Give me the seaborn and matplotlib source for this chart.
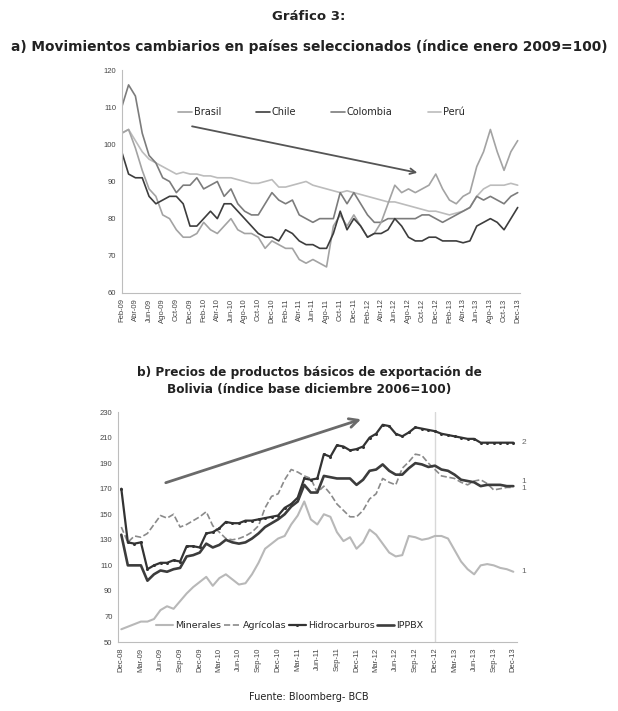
import matplotlib
matplotlib.use("Agg")
import matplotlib.pyplot as plt
import numpy as np
import pandas as pd
import seaborn as sns

# --- Panel a) tipos de cambio, mensual Feb-09 .. Dic-13 (índice ene-2009=100)
brasil = [103, 104, 99, 93, 88, 86, 81, 80, 77, 75,
          75, 76, 79, 77, 76, 78, 80, 77, 76, 76,
          75, 72, 74, 73, 72, 72, 69, 68, 69, 68,
          67, 78, 81, 78, 81, 78, 75, 76, 79, 84,
          89, 87, 88, 87, 88, 89, 92, 88, 85, 84,
          86, 87, 94, 98, 104, 98, 93, 98, 101]
chile = [98, 92, 91, 91, 86, 84, 85, 86, 86, 84,
         78, 78, 80, 82, 80, 84, 84, 82, 80, 78,
         76, 75, 75, 74, 77, 76, 74, 73, 73, 72,
         72, 76, 82, 77, 80, 78, 75, 76, 76, 77,
         80, 78, 75, 74, 74, 75, 75, 74, 74, 74,
         73.5, 74, 78, 79, 80, 79, 77, 80, 83]
colombia = [110, 116, 113, 103, 97, 95, 91, 90, 87, 89,
            89, 91, 88, 89, 90, 86, 88, 84, 82, 81,
            81, 84, 87, 85, 84, 85, 81, 80, 79, 80,
            80, 80, 87, 84, 87, 84, 81, 79, 79, 80,
            80, 80, 80, 80, 81, 81, 80, 79, 80, 81,
            82, 83, 86, 85, 86, 85, 84, 86, 87]
peru = [103, 104, 101, 98, 96, 95, 94, 93, 92, 92.5,
        92, 92, 91.5, 91.5, 91, 91, 91, 90.5, 90, 89.5,
        89.5, 90, 90.5, 88.5, 88.5, 89, 89.5, 90, 89, 88.5,
        88, 87.5, 87, 87.5, 87, 86.5, 86, 85.5, 85, 84.5,
        84.5, 84, 83.5, 83, 82.5, 82, 82, 81.5, 81, 81.5,
        82, 83, 86, 88, 89, 89, 89, 89.5, 89]
meses_a = ["Feb", "Abr", "Jun", "Ago", "Oct", "Dec"]
labels_a = [f"{m}-{y}" for y in ["09", "10", "11", "12", "13"] for m in meses_a]

# --- Panel b) precios de exportación, mensual Dic-08 .. Dic-13
minerales = [60, 62, 64, 66, 66, 68, 75, 78, 76, 82,
             88, 93, 97, 101, 94, 100, 103, 99, 95, 96,
             103, 112, 123, 127, 131, 133, 142, 149, 160, 146,
             142, 150, 148, 136, 129, 132, 123, 128, 138, 134,
             127, 120, 117, 118, 133, 132, 130, 131, 133, 133,
             131, 122, 113, 107, 103, 110, 111, 110, 108, 107, 105]
agricolas = [140, 128, 133, 132, 135, 142, 149, 147, 150, 140,
             142, 145, 148, 152, 141, 136, 131, 130, 131, 133,
             136, 141, 155, 164, 166, 177, 185, 183, 180, 178,
             167, 172, 166, 158, 153, 148, 148, 153, 162, 166,
             178, 175, 173, 186, 191, 197, 196, 190, 185, 180,
             179, 178, 175, 173, 176, 177, 174, 169, 170, 171, 171]
hidrocarburos = [170, 128, 127, 128, 107, 110, 112, 112, 114, 113,
                 125, 125, 124, 135, 136, 139, 144, 143, 143, 145,
                 145, 146, 147, 148, 149, 155, 158, 163, 178, 177,
                 178, 197, 195, 204, 203, 200, 201, 203, 210, 213,
                 220, 219, 213, 211, 214, 218, 217, 216, 215, 213,
                 212, 211, 210, 209, 209, 206, 206, 206, 206, 206, 206]
ippbx = [134, 110, 110, 110, 98, 103, 106, 105, 107, 108,
         117, 118, 120, 127, 124, 126, 130, 128, 127, 128,
         131, 135, 140, 143, 146, 150, 156, 160, 173, 167,
         167, 180, 179, 178, 178, 178, 173, 177, 184, 185,
         189, 184, 181, 181, 186, 190, 189, 187, 188, 185,
         184, 181, 177, 176, 175, 172, 173, 173, 173, 172, 172]
meses_b = ["Mar", "Jun", "Sep", "Dec"]
labels_b = ["Dec-08"] + [f"{m}-{y}" for y in ["09", "10", "11", "12", "13"] for m in meses_b]
etiquetas_fin = ["2", "1", "1", "1"]

sns.set_style("white")
plt.rcParams["font.family"] = ["DejaVu Sans"]

fig = plt.figure(figsize=(6.18, 7.11), dpi=100)
ax1 = fig.add_axes([0.197, 0.588, 0.644, 0.3135])
ax2 = fig.add_axes([0.191, 0.097, 0.646, 0.3235])

# panel a
df_a = pd.DataFrame({"mes": np.arange(len(brasil)), "Brasil": brasil, "Chile": chile,
                     "Colombia": colombia, "Perú": peru})
colores_a = {"Brasil": "#a3a3a3", "Chile": "#3d3d3d", "Colombia": "#7c7c7c", "Perú": "#bcbcbc"}
for pais in ["Perú", "Colombia", "Brasil", "Chile"]:
    sns.lineplot(data=df_a, x="mes", y=pais, ax=ax1, color=colores_a[pais], lw=1.2, label=pais)
h, l = ax1.get_legend_handles_labels()
orden = [l.index(p) for p in ["Brasil", "Chile", "Colombia", "Perú"]]
ax1.legend([h[i] for i in orden], [l[i] for i in orden], ncol=4, frameon=False,
           loc="center left", bbox_to_anchor=(0.12, 0.81), fontsize=7,
           handlelength=1.4, handletextpad=0.2, columnspacing=3.6)
ax1.annotate("", xy=(43.7, 92.2), xytext=(9.9, 105),
             arrowprops=dict(arrowstyle="->", color="#555555", lw=1.3))
ax1.set_ylim(60, 120)
ax1.set_xlim(0, 58.3)
ax1.set_yticks(range(60, 121, 10))
ax1.set_xticks(range(0, 59, 2))
ax1.set_xticklabels(labels_a, rotation=90)
ax1.set_xlabel("")
ax1.set_ylabel("")

# panel b
df_b = pd.DataFrame({"mes": np.arange(len(minerales)), "Minerales": minerales,
                     "Agrícolas": agricolas, "Hidrocarburos": hidrocarburos, "IPPBX": ippbx})
ax2.axvline(48, color="#d8d8d8", lw=1.0)
sns.lineplot(data=df_b, x="mes", y="Minerales", ax=ax2, color="#b8b8b8", lw=1.5, label="Minerales")
sns.lineplot(data=df_b, x="mes", y="Agrícolas", ax=ax2, color="#8a8a8a", lw=1.2,
             linestyle="--", label="Agrícolas")
sns.lineplot(data=df_b, x="mes", y="Hidrocarburos", ax=ax2, color="#333333", lw=1.6,
             marker="o", markersize=2.2, markeredgewidth=0, label="Hidrocarburos")
sns.lineplot(data=df_b, x="mes", y="IPPBX", ax=ax2, color="#3c3c3c", lw=1.9, label="IPPBX")
ax2.legend(ncol=4, frameon=False, loc="center", bbox_to_anchor=(0.43, 0.072), fontsize=6.8,
           handlelength=1.8, handletextpad=0.2, columnspacing=0.3)
ultimo = len(minerales) - 1
for val, txt in zip([hidrocarburos[-1], ippbx[-1] + 4, agricolas[-1] - 1, minerales[-1]], etiquetas_fin):
    ax2.text(ultimo + 1.2, val, txt, fontsize=6, color="#666666", va="center", ha="left",
             family="Liberation Sans")
ax2.annotate("", xy=(37.1, 225), xytext=(6.4, 174),
             arrowprops=dict(arrowstyle="->", color="#6a6a6a", lw=2.0, mutation_scale=16))
ax2.set_ylim(50, 230)
ax2.set_xlim(-0.5, 60.6)
ax2.set_yticks(range(50, 231, 20))
ax2.set_xticks(range(0, 61, 3))
ax2.set_xticklabels(labels_b, rotation=90)
ax2.set_xlabel("")
ax2.set_ylabel("")

for ax in (ax1, ax2):
    sns.despine(ax=ax)
    for s in ("left", "bottom"):
        ax.spines[s].set_color("#bdbdbd")
        ax.spines[s].set_linewidth(0.8)
    ax.tick_params(axis="both", length=2, width=0.6, color="#bdbdbd", pad=2,
                   labelsize=5.5, labelcolor="#444444")
    for t in ax.get_xticklabels() + ax.get_yticklabels():
        t.set_family("Liberation Sans")

fig.text(0.5, 1 - 17 / 711, "Gráfico 3:", ha="center", va="center", fontsize=9.5,
         fontweight="bold", color="#222222")
fig.text(0.5, 1 - 47 / 711, "a) Movimientos cambiarios en países seleccionados (índice enero 2009=100)",
         ha="center", va="center", fontsize=9.9, fontweight="bold", color="#222222")
fig.text(0.5, 1 - 372 / 711, "b) Precios de productos básicos de exportación de",
         ha="center", va="center", fontsize=8.7, fontweight="bold", color="#222222")
fig.text(0.5, 1 - 390 / 711, "Bolivia (índice base diciembre 2006=100)",
         ha="center", va="center", fontsize=8.7, fontweight="bold", color="#222222")
fig.text(0.5, 1 - 697 / 711, "Fuente: Bloomberg- BCB", ha="center", va="center",
         fontsize=7, color="#222222")

fig.savefig("out.png", dpi=100, facecolor="white")
